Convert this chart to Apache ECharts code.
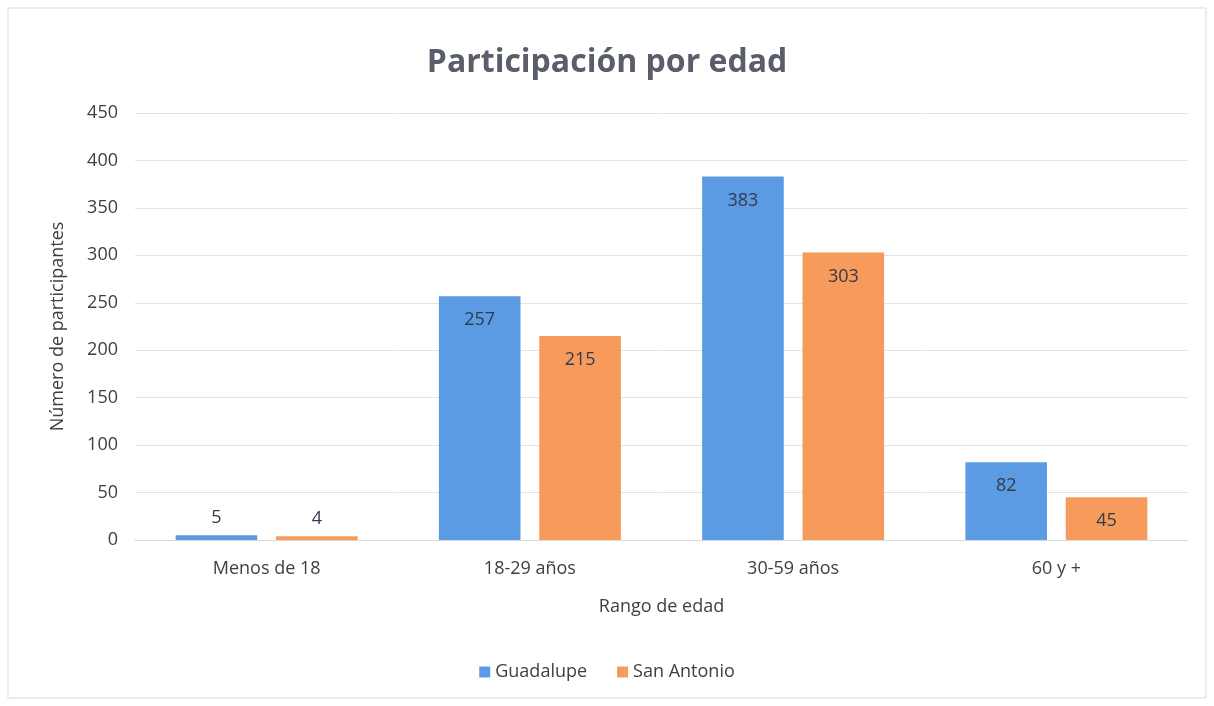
<!DOCTYPE html>
<html><head><meta charset="utf-8">
<script src="https://cdn.jsdelivr.net/npm/echarts@6/dist/echarts.min.js"></script>
<style>html,body{margin:0;padding:0;background:#fff}#c{width:1214px;height:706px}</style>
</head><body><div id="c"></div>
<script>
const categories = ['Menos de 18', '18-29 años', '30-59 años', '60 y +'];
const guadalupe = [5, 257, 383, 82];
const sanAntonio = [4, 215, 303, 45];
const yTicks = [0, 50, 100, 150, 200, 250, 300, 350, 400, 450];

const FONT = '"Open Sans", sans-serif';
function items(arr) {
  return arr.map(v => ({ value: v, label: { position: v < 20 ? 'top' : 'insideTop', distance: v < 20 ? 8 : 15 } }));
}
const chart = echarts.init(document.getElementById('c'), null, { renderer: 'canvas' });
chart.setOption({
  animation: false,
  textStyle: { fontFamily: FONT },
  graphic: [{ type: 'rect', shape: { x: 8, y: 8, width: 1198, height: 690 }, style: { fill: 'none', stroke: '#d9d9d9', lineWidth: 1 }, silent: true }],
  title: { text: 'Participación por edad', left: 'center', top: 42, textStyle: { fontFamily: FONT, fontSize: 32, fontWeight: 'bold', color: '#5a5e6b' } },
  legend: { bottom: 20, left: 'center', itemWidth: 11, itemHeight: 11, itemGap: 30, icon: 'rect', textStyle: { fontFamily: FONT, fontSize: 18, color: '#404040' }, data: ['Guadalupe', 'San Antonio'] },
  grid: { left: 135, right: 26, top: 113, bottom: 166 },
  xAxis: {
    type: 'category', data: categories,
    name: 'Rango de edad', nameLocation: 'middle', nameGap: 58,
    nameTextStyle: { fontFamily: FONT, fontSize: 18, color: '#404040' },
    axisLine: { lineStyle: { color: '#d9d9d9' } }, axisTick: { show: false },
    axisLabel: { fontFamily: FONT, fontSize: 18, color: '#404040', margin: 20 }
  },
  yAxis: {
    type: 'value', min: 0, max: 450, interval: 50,
    name: 'Número de participantes', nameLocation: 'middle', nameGap: 68, nameRotate: 90,
    nameTextStyle: { fontFamily: FONT, fontSize: 18, color: '#404040' },
    axisLine: { show: false }, axisTick: { show: false },
    axisLabel: { fontFamily: FONT, fontSize: 18, color: '#404040', margin: 17, formatter: v => yTicks.includes(v) ? String(v) : '' },
    splitLine: { lineStyle: { color: '#e3e3e3' } }
  },
  series: [
    { name: 'Guadalupe', type: 'bar', data: items(guadalupe), barWidth: '31%', barGap: '23%',
      itemStyle: { color: '#5b9be3' },
      label: { show: true, fontFamily: FONT, fontSize: 18, color: '#333b4a' } },
    { name: 'San Antonio', type: 'bar', data: items(sanAntonio), barWidth: '31%',
      itemStyle: { color: '#f79b5d' },
      label: { show: true, fontFamily: FONT, fontSize: 18, color: '#333b4a' } }
  ]
});
</script></body></html>
